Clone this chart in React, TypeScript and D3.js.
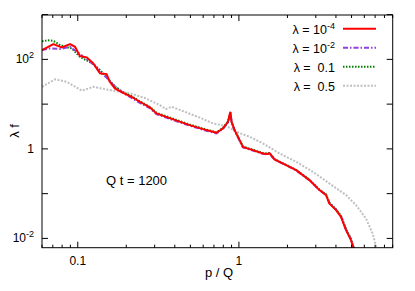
import React from "react";
import * as d3 from "d3";

const lam1e4: [number, number][] = [
  [0.06, 161], [0.0706, 220], [0.0796, 185], [0.0896, 220], [0.0962, 191], [0.1033, 118],
  [0.1137, 111], [0.1249, 81.4], [0.1374, 48.7], [0.151, 46.9], [0.158, 31.6], [0.17, 22.5],
  [0.191, 17.9], [0.216, 14.6], [0.243, 11.3], [0.28, 8.46], [0.308, 6.21], [0.391, 4.56],
  [0.495, 3.4], [0.628, 2.63], [0.725, 2.29], [0.796, 2.87], [0.855, 4.03], [0.885, 6.75],
  [0.901, 3.97], [0.94, 2.63], [1.01, 1.57], [1.059, 1.11], [1.22, 0.94], [1.408, 0.793],
  [1.5, 0.77], [1.549, 0.8], [1.663, 0.582], [1.965, 0.435], [2.265, 0.336], [2.738, 0.201],
  [3.157, 0.12], [3.475, 0.0928], [3.64, 0.0605], [4.007, 0.0429], [4.3, 0.0304], [4.62, 0.0153],
  [4.96, 0.00916], [5.13, 0.0062], [5.2, 0.004],
];
const lam1e2: [number, number][] = [
  [0.06, 161], [0.0674, 176], [0.0777, 170], [0.0896, 191], [0.0986, 148], [0.1083, 114],
  [0.1249, 78.5], [0.1374, 52], [0.151, 39.2], [0.1654, 27.3], [0.191, 17.7], [0.216, 13.7],
  [0.243, 10.6], [0.28, 8.16], [0.308, 6.0], [0.391, 4.4], [0.495, 3.3], [0.628, 2.55],
  [0.725, 2.22], [0.796, 2.8], [0.855, 3.9], [0.885, 6.3], [0.901, 3.85], [0.94, 2.55],
  [1.01, 1.52], [1.059, 1.08], [1.22, 0.92], [1.408, 0.775], [1.5, 0.755], [1.549, 0.785],
  [1.663, 0.575], [1.965, 0.43], [2.265, 0.332], [2.738, 0.2], [3.157, 0.121], [3.475, 0.094],
  [3.64, 0.062], [4.007, 0.0437], [4.3, 0.031], [4.62, 0.0158], [4.96, 0.0095], [5.15, 0.0062],
  [5.22, 0.004],
];
const lam01: [number, number][] = [
  [0.06, 253], [0.0655, 266], [0.0706, 260], [0.0777, 209], [0.0834, 191], [0.0918, 176],
  [0.0962, 148], [0.1033, 114], [0.1249, 78.5], [0.1374, 57.7], [0.158, 33.6], [0.17, 24.7],
  [0.191, 18.5], [0.216, 15.0], [0.243, 11.6], [0.28, 8.7], [0.308, 6.4], [0.391, 4.7],
  [0.495, 3.5], [0.628, 2.7], [0.725, 2.35], [0.796, 2.9], [0.855, 4.1], [0.885, 6.6],
  [0.901, 4.0], [0.94, 2.68], [1.01, 1.6], [1.059, 1.13], [1.22, 0.96], [1.408, 0.81],
  [1.5, 0.785], [1.549, 0.815], [1.663, 0.59], [1.965, 0.44], [2.265, 0.34], [2.738, 0.205],
  [3.157, 0.124], [3.475, 0.096], [3.64, 0.063], [4.007, 0.0445], [4.3, 0.0318], [4.62, 0.0162],
  [4.96, 0.0098], [5.16, 0.0062], [5.24, 0.004],
];
const lam05: [number, number][] = [
  [0.06, 24.4], [0.0724, 35.7], [0.0855, 31.6], [0.106, 19.9], [0.125, 24.4], [0.158, 20.6],
  [0.211, 17.4], [0.261, 13.7], [0.323, 9.52], [0.352, 7.75], [0.382, 8.73], [0.461, 6.75],
  [0.571, 5.0], [0.69, 3.71], [0.836, 3.23], [0.963, 2.41], [1.165, 1.86], [1.408, 1.33],
  [1.786, 0.793], [2.265, 0.515], [2.87, 0.308], [3.64, 0.169], [4.62, 0.0928], [5.33, 0.0555],
  [6.14, 0.028], [6.75, 0.0129], [7.14, 0.0062], [7.3, 0.004],
];

const legendBase = ["10", "10", "0.1", "0.5"];
const legendSup = ["-4", "-2", "", ""];

const xMajor = [0.1, 1];
const xMinor = [0.06, 0.07, 0.08, 0.09, 0.2, 0.3, 0.4, 0.5, 0.6, 0.7, 0.8, 0.9, 2, 3, 4, 5, 6, 7, 8, 9];
const yTicks = [1e-2, 1e-1, 1, 10, 100, 1000];
const yLabels: [number, string, string][] = [[100, "10", "2"], [1, "1", ""], [0.01, "10", "-2"]];

const W = 415;
const H = 291;
const left = 42, right = 392.7, top = 15, bottom = 247.7;
const font = "'Liberation Sans', Arial, sans-serif";

const series = [
  { data: lam1e4, color: "#ff0000", dash: undefined },
  { data: lam1e2, color: "#9040e0", dash: "5,2,1.5,2" },
  { data: lam01, color: "#008000", dash: "1.5,1.5" },
  { data: lam05, color: "#c0c0c0", dash: "2,1.5" },
];

export default function App() {
  const x = d3.scaleLog().domain([0.06, 9]).range([left, right]);
  const y = d3.scaleLog().domain([0.0062, 980]).range([bottom, top]);
  const line = d3.line<[number, number]>().x(d => x(d[0])).y(d => y(d[1]));

  return (
    <svg width={W} height={H} style={{ position: "absolute", left: 0, top: 0 }}>
      <defs>
        <clipPath id="plot">
          <rect x={left} y={top} width={right - left} height={bottom - top} />
        </clipPath>
      </defs>
      <rect width={W} height={H} fill="#fff" />

      {/* curves, grey one below */}
      <g clipPath="url(#plot)" fill="none">
        {[3, 2, 1, 0].map(i => (
          <path key={i} d={line(series[i].data) || ""} stroke={series[i].color}
            strokeWidth={2} strokeDasharray={series[i].dash} />
        ))}
      </g>

      {/* frame and ticks */}
      <g stroke="#000" strokeWidth={1}>
        <rect x={left} y={top} width={right - left} height={bottom - top} fill="none" />
        {xMajor.map(t => (
          <g key={"M" + t}>
            <line x1={x(t)} x2={x(t)} y1={bottom} y2={bottom - 6} />
            <line x1={x(t)} x2={x(t)} y1={top} y2={top + 6} />
          </g>
        ))}
        {xMinor.map(t => (
          <g key={"m" + t}>
            <line x1={x(t)} x2={x(t)} y1={bottom} y2={bottom - 3} />
            <line x1={x(t)} x2={x(t)} y1={top} y2={top + 3} />
          </g>
        ))}
        {yTicks.map(t => (
          <g key={"y" + t}>
            <line x1={left} x2={left + 6} y1={y(t)} y2={y(t)} />
            <line x1={right} x2={right - 6} y1={y(t)} y2={y(t)} />
          </g>
        ))}
      </g>

      <g fontFamily={font} fontSize={12} fill="#000">
        {xMajor.map(t => (
          <text key={t} x={x(t)} y={265} textAnchor="middle">{t === 1 ? "1" : "0.1"}</text>
        ))}
        {yLabels.map(([v, b, s]) => (
          <text key={v} x={34} y={y(v) + 4} textAnchor="end">
            {b}
            {s && <tspan fontSize={9} dy={-5}>{s}</tspan>}
          </text>
        ))}
        <text x={219} y={277} textAnchor="middle" fontSize={13}>p / Q</text>
        <text transform="translate(19,131) rotate(-90)" textAnchor="middle" fontSize={13}>λ f</text>
        <text x={106} y={185} fontSize={13}>Q t = 1200</text>

        {series.map((s, i) => {
          const ly = 28.7 + i * 19;
          return (
            <g key={i}>
              <text x={335} y={ly + 5} textAnchor="end" fontSize={12.5} style={{ whiteSpace: "pre" }}>
                {legendSup[i] ? `λ = ${legendBase[i]}` : `λ =  ${legendBase[i]}`}
                {legendSup[i] && <tspan fontSize={9} dy={-5}>{legendSup[i]}</tspan>}
              </text>
              <line x1={343} x2={376} y1={ly} y2={ly} stroke={s.color} strokeWidth={2}
                strokeDasharray={s.dash} />
            </g>
          );
        })}
      </g>
    </svg>
  );
}
